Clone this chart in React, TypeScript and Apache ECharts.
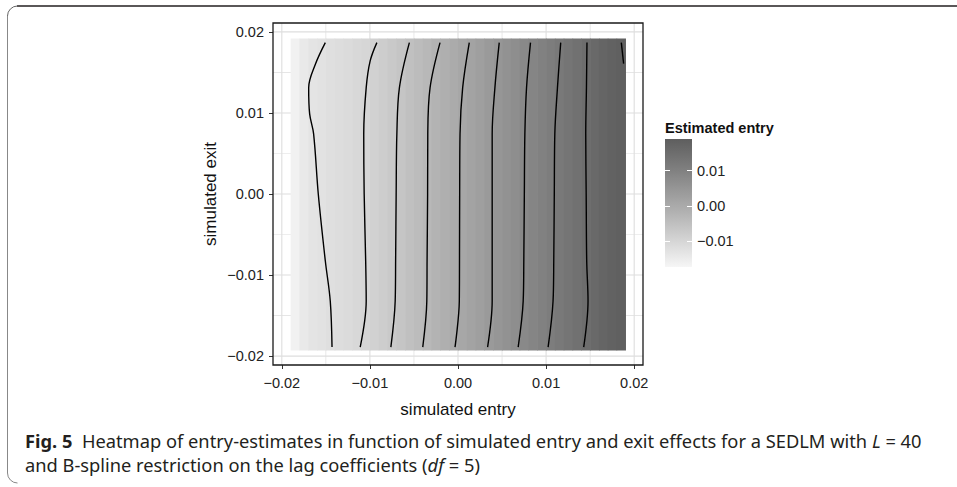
import React, { useEffect, useRef } from "react";
import * as echarts from "echarts";

// ---------- data ----------
const entryTicks = [-0.02, -0.01, 0, 0.01, 0.02];
const exitTicks = [-0.02, -0.01, 0, 0.01, 0.02];
const entryMinorGrid = [-0.015, -0.005, 0.005, 0.015];
const exitMinorGrid = [-0.015, -0.005, 0.005, 0.015];
const legendTicks = [-0.01, 0, 0.01];

// heat-map columns (simulated entry, column centres) and estimated entry per column
const entryCells = [
  -0.0185, -0.0175, -0.0165, -0.0155, -0.0145, -0.0135, -0.0125, -0.0115, -0.0105,
  -0.0095, -0.0085, -0.0075, -0.0065, -0.0055, -0.0045, -0.0035, -0.0025, -0.0015, -0.0005,
  0.0005, 0.0015, 0.0025, 0.0035, 0.0045, 0.0055, 0.0065, 0.0075, 0.0085, 0.0095,
  0.0105, 0.0115, 0.0125, 0.0135, 0.0145, 0.0155, 0.0165, 0.0175, 0.0185,
];
const estimatedEntry = [
  -0.016, -0.0143, -0.0133, -0.0127, -0.0122, -0.0116, -0.0111, -0.0105, -0.01,
  -0.009, -0.0081, -0.0071, -0.0061, -0.0051, -0.0041, -0.0031, -0.0021, -0.0011, -0.0001,
  0.0009, 0.0018, 0.0028, 0.0038, 0.0048, 0.0058, 0.0069, 0.0079, 0.0089, 0.01,
  0.011, 0.012, 0.0131, 0.0141, 0.0151, 0.0161, 0.017, 0.0178, 0.0184,
];
const exitRange = [-0.0193, 0.0192];
const estimateRange = [-0.0172, 0.0189];

// contour lines: [simulated entry, simulated exit]
const contour1 = [[-0.01506, 0.01868], [-0.01619, 0.01601], [-0.01695, 0.01312], [-0.01684, 0.00988], [-0.01639, 0.00741], [-0.01586, 0], [-0.01506, -0.00827], [-0.0145, -0.01321], [-0.0143, -0.01889]];
const contour2 = [[-0.00921, 0.01868], [-0.00997, 0.01642], [-0.01042, 0.01312], [-0.0107, 0.00741], [-0.01065, 0], [-0.01048, -0.00827], [-0.01042, -0.01321], [-0.0111, -0.01889]];
const contour3 = [[-0.00552, 0.01868], [-0.00665, 0.01312], [-0.00694, 0.00741], [-0.00702, 0], [-0.00708, -0.00827], [-0.00713, -0.01321], [-0.00762, -0.01889]];
const contour4 = [[-0.00204, 0.01868], [-0.00317, 0.01312], [-0.00343, 0.00741], [-0.00345, 0], [-0.00351, -0.00827], [-0.00354, -0.01321], [-0.004, -0.01889]];
const contour5 = [[0.00128, 0.01868], [0.00053, 0.01312], [0.00023, 0.00741], [0.00019, 0], [0.00017, -0.00827], [0.00015, -0.01321], [-0.00034, -0.01889]];
const contour6 = [[0.00468, 0.01868], [0.00419, 0.01312], [0.00388, 0.00741], [0.00388, 0], [0.00388, -0.00827], [0.00388, -0.01321], [0.00336, -0.01889]];
const contour7 = [[0.00823, 0.01868], [0.00778, 0.01312], [0.00759, 0.00741], [0.00753, 0], [0.00747, -0.00827], [0.0074, -0.01321], [0.00683, -0.01889]];
const contour8 = [[0.01166, 0.01868], [0.01129, 0.01312], [0.01099, 0.00741], [0.01093, 0], [0.01087, -0.00827], [0.01079, -0.01321], [0.01023, -0.01889]];
const contour9 = [[0.01464, 0.01868], [0.01458, 0.01312], [0.0145, 0.00741], [0.01455, 0], [0.01461, -0.00827], [0.01476, -0.01321], [0.01427, -0.01889]];
const contour10 = [[0.01854, 0.01868], [0.0188, 0.01609]];
const contours = [contour1, contour2, contour3, contour4, contour5, contour6, contour7, contour8, contour9, contour10];

// ---------- styling helpers ----------
const SANS = "'Liberation Sans', Arial, Helvetica, sans-serif";
const CAP = "'Noto Sans', 'Open Sans', sans-serif";
const CAP_SIZE = 18.3;
const LOW_GRAY = 246;
const HIGH_GRAY = 94;

function grayToL(v: number) {
  const c = v / 255;
  const lin = c <= 0.04045 ? c / 12.92 : Math.pow((c + 0.055) / 1.055, 2.4);
  const f = lin > 0.008856 ? Math.cbrt(lin) : 7.787 * lin + 16 / 116;
  return 116 * f - 16;
}
function lToGray(L: number) {
  const fy = (L + 16) / 116;
  const lin = fy > 0.206897 ? fy * fy * fy : (fy - 16 / 116) / 7.787;
  const c = lin <= 0.0031308 ? 12.92 * lin : 1.055 * Math.pow(lin, 1 / 2.4) - 0.055;
  return Math.round(Math.max(0, Math.min(1, c)) * 255);
}
function colorAtT(t: number) {
  const tt = Math.max(0, Math.min(1, t));
  const L = grayToL(LOW_GRAY) + (grayToL(HIGH_GRAY) - grayToL(LOW_GRAY)) * tt;
  const g = lToGray(L);
  return `rgb(${g},${g},${g})`;
}
function fillFor(z: number) {
  return colorAtT((z - estimateRange[0]) / (estimateRange[1] - estimateRange[0]));
}
function fmt(v: number) {
  if (Math.abs(v) < 1e-9) return "0.00";
  return v < 0 ? "\u2212" + (-v).toFixed(2) : v.toFixed(2);
}

export default function App() {
  const ref = useRef<HTMLDivElement>(null);
  useEffect(() => {
    if (!ref.current) return;
    const chart = echarts.init(ref.current, null, { renderer: "svg" });
    const cellWidth = entryCells[1] - entryCells[0];

    const vLines = [...entryTicks.map((v) => [v, 1]), ...entryMinorGrid.map((v) => [v, 0])];
    const hLines = [...exitTicks.map((v) => [v, 1]), ...exitMinorGrid.map((v) => [v, 0])];

    const stops = [];
    for (let i = 0; i <= 20; i++) stops.push({ offset: i / 20, color: colorAtT(i / 20) });

    const noLine = { show: false, onZero: false };
    const option: any = {
      animation: false,
      backgroundColor: "#ffffff",
      grid: [
        { left: 273, top: 23, width: 370, height: 342, show: false },
        { left: 665, top: 139, width: 27, height: 128, show: false },
      ],
      xAxis: [
        {
          type: "value", gridIndex: 0, min: -0.021, max: 0.021, position: "bottom",
          axisLine: noLine, splitLine: { show: false },
          axisTick: { show: true, length: 4, lineStyle: { color: "#333" }, customValues: entryTicks },
          axisLabel: { customValues: entryTicks, formatter: fmt, fontSize: 14.5, color: "#222", margin: 10, fontFamily: SANS },
        },
        { type: "value", gridIndex: 1, min: 0, max: 1, show: false, axisLine: noLine },
      ],
      yAxis: [
        {
          type: "value", gridIndex: 0, min: -0.0211, max: 0.0211, position: "left",
          axisLine: noLine, splitLine: { show: false },
          axisTick: { show: true, length: 4, lineStyle: { color: "#333" }, customValues: exitTicks },
          axisLabel: { customValues: exitTicks, formatter: fmt, fontSize: 14.5, color: "#222", margin: 9, fontFamily: SANS },
        },
        {
          type: "value", gridIndex: 1, min: estimateRange[0], max: estimateRange[1], position: "right", z: 10,
          axisLine: noLine, splitLine: { show: false },
          axisTick: { show: true, inside: true, length: 5, lineStyle: { color: "#fff", width: 1 }, customValues: legendTicks },
          axisLabel: { customValues: legendTicks, formatter: fmt, fontSize: 14.5, color: "#222", margin: 5, fontFamily: SANS },
        },
        {
          type: "value", gridIndex: 1, min: estimateRange[0], max: estimateRange[1], position: "left", z: 10,
          axisLine: noLine, splitLine: { show: false },
          axisTick: { show: true, inside: true, length: 5, lineStyle: { color: "#fff", width: 1 }, customValues: legendTicks },
          axisLabel: { show: false },
        },
      ],
      series: [
        // panel grid lines (vertical)
        {
          type: "custom", xAxisIndex: 0, yAxisIndex: 0, z: 1, silent: true,
          data: vLines, encode: { x: 0 },
          renderItem: (params: any, api: any) => {
            const cs = params.coordSys;
            const p = api.coord([api.value(0), 0]);
            const w = api.value(1) === 1 ? 1.1 : 0.7;
            return { type: "rect", shape: { x: p[0] - w / 2, y: cs.y, width: w, height: cs.height }, style: { fill: "#dedede" } };
          },
        },
        // panel grid lines (horizontal)
        {
          type: "custom", xAxisIndex: 0, yAxisIndex: 0, z: 1, silent: true,
          data: hLines, encode: { y: 0 },
          renderItem: (params: any, api: any) => {
            const cs = params.coordSys;
            const p = api.coord([0, api.value(0)]);
            const h = api.value(1) === 1 ? 1.1 : 0.7;
            return { type: "rect", shape: { x: cs.x, y: p[1] - h / 2, width: cs.width, height: h }, style: { fill: "#dedede" } };
          },
        },
        // heat map
        {
          type: "custom", xAxisIndex: 0, yAxisIndex: 0, z: 2, silent: true,
          data: entryCells.map((x, i) => [x, estimatedEntry[i]]),
          encode: { x: 0, y: 1 },
          renderItem: (params: any, api: any) => {
            const x = api.value(0);
            const z = api.value(1);
            const p1 = api.coord([x - cellWidth / 2, exitRange[1]]);
            const p2 = api.coord([x + cellWidth / 2, exitRange[0]]);
            return {
              type: "rect",
              shape: { x: p1[0], y: p1[1], width: p2[0] - p1[0] + 0.6, height: p2[1] - p1[1] },
              style: { fill: fillFor(z) },
            };
          },
        },
        ...contours.map((c) => ({
          type: "line", xAxisIndex: 0, yAxisIndex: 0, z: 5, silent: true,
          data: c, smooth: 0.35, symbol: "none",
          lineStyle: { color: "#000", width: 1.4 },
        })),
        // panel border
        {
          type: "custom", xAxisIndex: 0, yAxisIndex: 0, z: 6, silent: true,
          data: [[0, 0]],
          renderItem: (params: any) => {
            const cs = params.coordSys;
            return {
              type: "rect",
              shape: { x: cs.x, y: cs.y, width: cs.width, height: cs.height },
              style: { fill: null, stroke: "#1a1a1a", lineWidth: 1.3 },
            };
          },
        },
        // legend colour bar
        {
          type: "custom", xAxisIndex: 1, yAxisIndex: 1, z: 2, silent: true,
          data: [[0.5, 0]],
          renderItem: (params: any) => {
            const cs = params.coordSys;
            return {
              type: "rect",
              shape: { x: cs.x, y: cs.y, width: cs.width, height: cs.height },
              style: { fill: new echarts.graphic.LinearGradient(0, 1, 0, 0, stops) },
            };
          },
        },
      ],
      graphic: [
        { type: "line", shape: { x1: 17, y1: 6, x2: 957, y2: 6 }, style: { stroke: "#231f20", lineWidth: 1.6 } },
        { type: "arc", shape: { cx: 17.5, cy: 16, r: 10, startAngle: Math.PI, endAngle: Math.PI * 1.5 }, style: { stroke: "#666", lineWidth: 1, fill: null } },
        { type: "line", shape: { x1: 7.5, y1: 16, x2: 7.5, y2: 473 }, style: { stroke: "#888", lineWidth: 1 } },
        { type: "arc", shape: { cx: 17.5, cy: 473, r: 10, startAngle: Math.PI * 0.5, endAngle: Math.PI }, style: { stroke: "#888", lineWidth: 1, fill: null } },
        {
          type: "text", x: 458, y: 409,
          style: { text: "simulated entry", font: `17px ${SANS}`, fill: "#111", align: "center", verticalAlign: "middle" },
        },
        {
          type: "text", x: 210, y: 194, rotation: Math.PI / 2,
          style: { text: "simulated exit", font: `17px ${SANS}`, fill: "#111", align: "center", verticalAlign: "middle" },
        },
        {
          type: "text", x: 665, y: 128,
          style: { text: "Estimated entry", font: `bold 14.5px ${SANS}`, fill: "#111", align: "left", verticalAlign: "middle" },
        },
        {
          type: "text", x: 25, y: 440,
          style: {
            text: "{b|Fig. 5}  Heatmap of entry-estimates in function of simulated entry and exit effects for a SEDLM with {i|L} = 40",
            font: `${CAP_SIZE}px ${CAP}`, fill: "#231f20", align: "left", verticalAlign: "middle",
            rich: {
              b: { fontWeight: "bold", fontSize: CAP_SIZE, fontFamily: CAP, fill: "#231f20" },
              i: { fontStyle: "italic", fontSize: CAP_SIZE, fontFamily: CAP, fill: "#231f20" },
            },
          },
        },
        {
          type: "text", x: 25, y: 464,
          style: {
            text: "and B-spline restriction on the lag coefficients ({i|df} = 5)",
            font: `${CAP_SIZE}px ${CAP}`, fill: "#231f20", align: "left", verticalAlign: "middle",
            rich: {
              i: { fontStyle: "italic", fontSize: CAP_SIZE, fontFamily: CAP, fill: "#231f20" },
            },
          },
        },
      ],
    };
    chart.setOption(option);
    return () => chart.dispose();
  }, []);
  return <div ref={ref} style={{ position: "absolute", left: 0, top: 0, width: 957, height: 487 }} />;
}
